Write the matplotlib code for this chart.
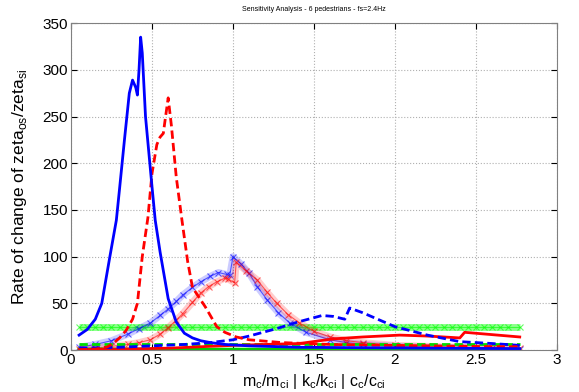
import matplotlib
matplotlib.use("Agg")
import matplotlib.pyplot as plt

plt.rcParams['font.family'] = ['Liberation Sans', 'DejaVu Sans']

# mode 1 (blue), mode 2 (red), mode 3 (green); solid = m, dashed = k, markers = c
blue_m_x = [0.05, 0.10, 0.15, 0.19, 0.24, 0.28, 0.30, 0.33, 0.36, 0.38, 0.40, 0.41, 0.42, 0.43, 0.44,
            0.46, 0.50, 0.52, 0.55, 0.60, 0.65, 0.70, 0.75, 0.80, 0.86, 0.95, 1.1, 1.4, 1.8, 2.2, 2.77]
blue_m_y = [16, 22, 33, 50, 100, 139, 173, 225, 275, 289, 281, 273, 300, 335, 318,
            250, 175, 139, 105, 55, 30, 18, 13, 10, 8, 6, 4.5, 3, 2.5, 2, 1.5]

red_k_x = [0.05, 0.15, 0.22, 0.26, 0.30, 0.34, 0.38, 0.41, 0.44, 0.475, 0.50, 0.53, 0.55, 0.57, 0.58,
           0.60, 0.62, 0.65, 0.685, 0.72, 0.75, 0.83, 0.90, 0.95, 1.02, 1.1, 1.3, 1.6, 2.0, 2.4, 2.77]
red_k_y = [0.5, 1, 3, 7, 13, 21, 33, 50, 100, 142, 189, 220, 228, 232, 245,
           270, 240, 185, 139, 95, 67, 46, 25, 19, 14, 11, 8, 6, 5, 4, 3.5]

red_m_x = [0.05, 0.3, 0.6, 0.86, 1.0, 1.2, 1.41, 1.62, 1.8, 2.03, 2.2, 2.40, 2.43, 2.6, 2.77]
red_m_y = [0.5, 1, 2, 4, 5, 6, 7, 12, 14, 16, 15, 13, 19, 16.5, 14]

blue_k_x = [0.05, 0.3, 0.5, 0.7, 0.86, 1.0, 1.1, 1.27, 1.4, 1.55, 1.62, 1.69, 1.72, 1.8, 2.0, 2.2, 2.4, 2.6, 2.77]
blue_k_y = [2, 3, 4.5, 6, 8, 11, 15, 23, 30, 37, 36, 33, 45, 40, 25, 16, 9, 7, 5]

green_x = [0.05, 0.5, 1.0, 1.5, 2.0, 2.5, 2.77]
green_m_y = [1.2, 1.0, 1.0, 1.0, 1.0, 1.0, 1.0]
green_k_y = [7, 7, 7, 7, 7, 7, 7]

green_c_x = [0.05, 0.10, 0.15, 0.20, 0.25, 0.30, 0.35, 0.40, 0.45, 0.50, 0.55, 0.60, 0.65, 0.70,
             0.75, 0.80, 0.85, 0.90, 0.95, 1.00, 1.05, 1.10, 1.15, 1.20, 1.25, 1.30, 1.35, 1.40,
             1.45, 1.50, 1.55, 1.60, 1.65, 1.70, 1.75, 1.80, 1.85, 1.90, 1.95, 2.00, 2.05, 2.10,
             2.15, 2.20, 2.25, 2.30, 2.35, 2.40, 2.45, 2.50, 2.55, 2.60, 2.65, 2.70, 2.77]
green_c_y = [25] * len(green_c_x)

blue_c_x = [0.05, 0.15, 0.25, 0.35, 0.42, 0.49, 0.55, 0.60, 0.65, 0.69, 0.75, 0.80, 0.86, 0.91, 0.96,
            0.98, 1.0, 1.05, 1.1, 1.15, 1.21, 1.28, 1.35, 1.45, 1.6, 1.7, 1.8, 2.0, 2.2, 2.4, 2.6, 2.77]
blue_c_y = [3, 6, 10, 17, 23, 29, 37, 44, 52, 59, 67, 73, 79, 83, 81,
            80, 100, 92, 82, 68, 54, 40, 29, 19, 11, 8, 6, 4, 3, 2.5, 2, 1.5]

red_c_x = [0.05, 0.15, 0.25, 0.35, 0.42, 0.49, 0.55, 0.60, 0.65, 0.69, 0.75, 0.80, 0.85, 0.90, 0.95,
           0.97, 1.01, 1.02, 1.08, 1.15, 1.21, 1.27, 1.34, 1.41, 1.5, 1.6, 1.7, 1.8, 2.0, 2.2, 2.4, 2.6, 2.77]
red_c_y = [1, 2, 4, 6, 8, 11, 17, 24, 32, 39, 51, 61, 68, 73, 77,
           76, 72, 94, 85, 75, 62, 50, 38, 29, 20, 14, 10, 8, 5, 4, 3, 2.5, 2]

fig = plt.figure(figsize=(5.79, 3.92), dpi=100)
ax = fig.add_axes([0.1226, 0.107, 0.8394, 0.834])

# damping curves: translucent band of x markers with a thin line through it
for cx, cy, col, a in [(green_c_x, green_c_y, '#00ff00', 0.45),
                       (blue_c_x, blue_c_y, '#0000ff', 0.2),
                       (red_c_x, red_c_y, '#ff0000', 0.2)]:
    ax.plot(cx, cy, color=col, lw=5, alpha=a, solid_capstyle='butt')
    ax.plot(cx, cy, color=col, lw=0.8, alpha=0.6, marker='x', ms=4, mew=0.8, ls='-')

# mass (solid) and stiffness (dashed) curves
ax.plot(green_x, green_m_y, color='#00cc00', lw=2)
ax.plot(green_x, green_k_y, color='#00dd00', lw=2, ls=(0, (3, 1.5)))
ax.plot(red_m_x, red_m_y, color='#ff0000', lw=2)
ax.plot(blue_k_x, blue_k_y, color='#0000ff', lw=2, ls=(0, (3, 1.5)))
ax.plot(red_k_x, red_k_y, color='#ff0000', lw=2, ls=(0, (3, 1.5)))
ax.plot(blue_m_x, blue_m_y, color='#0000ff', lw=2)

ax.set_xlim(0, 3)
ax.set_ylim(0, 350)
ax.set_xticks([0, 0.5, 1, 1.5, 2, 2.5, 3])
ax.set_xticklabels(['0', '0.5', '1', '1.5', '2', '2.5', '3'])
ax.set_yticks(range(0, 351, 50))
ax.tick_params(direction='in', labelsize=11, top=True, right=True, length=4, pad=2)
ax.grid(True, ls=':', color='#b0b0b0', lw=0.8)
for s in ax.spines.values():
    s.set_color('#808080')

ax.set_title('Sensitivity Analysis - 6 pedestrians - fs=2.4Hz', fontsize=5, pad=9)
ax.set_xlabel(r'm$_\mathregular{c}$/m$_\mathregular{ci}$ | k$_\mathregular{c}$/k$_\mathregular{ci}$ | c$_\mathregular{c}$/c$_\mathregular{ci}$',
              fontsize=11.5, labelpad=4)
ax.set_ylabel(r'Rate of change of zeta$_\mathregular{os}$/zeta$_\mathregular{si}$', fontsize=12.5, labelpad=10)

fig.savefig('out.png', dpi=100)
